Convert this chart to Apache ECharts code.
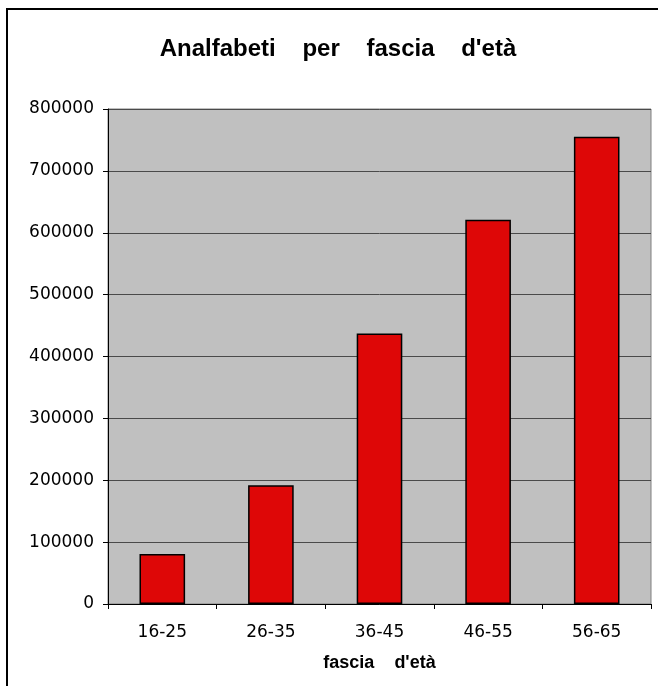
<!DOCTYPE html>
<html>
<head>
<meta charset="utf-8">
<script src="https://cdn.jsdelivr.net/npm/echarts@6/dist/echarts.min.js"></script>
<style>
  html, body { margin: 0; padding: 0; background: #ffffff; }
  #chart { width: 658px; height: 686px; }
</style>
</head>
<body>
<div id="chart"></div>
<script>
// Illiterate people by age band
const categories = ['16-25', '26-35', '36-45', '46-55', '56-65'];
const values = [81000, 192000, 437000, 621000, 755000];
const yTicks = [0, 100000, 200000, 300000, 400000, 500000, 600000, 700000, 800000];

const chart = echarts.init(document.getElementById('chart'));
chart.setOption({
  animation: false,
  backgroundColor: '#ffffff',
  title: {
    text: 'Analfabeti    per    fascia    d\'età',
    left: 333,
    top: 32,
    textAlign: 'center',
    textStyle: { fontFamily: 'Liberation Sans', fontWeight: 'bold', fontSize: 24, color: '#000000' }
  },
  graphic: [{
    type: 'rect',
    shape: { x: 7, y: 9, width: 720, height: 720 },
    style: { fill: 'none', stroke: '#000000', lineWidth: 2 },
    silent: true
  }],
  grid: {
    left: 108, top: 109, right: 7, bottom: 82,
    show: true, backgroundColor: '#c0c0c0', borderColor: '#808080', borderWidth: 1
  },
  xAxis: {
    type: 'category',
    data: categories,
    name: 'fascia    d\'età',
    nameLocation: 'middle',
    nameGap: 50,
    nameTextStyle: { fontFamily: 'Liberation Sans', fontWeight: 'bold', fontSize: 18, color: '#000000' },
    axisLine: { lineStyle: { color: '#000000', width: 1 } },
    axisTick: { show: true, inside: false, length: 5, lineStyle: { color: '#000000' } },
    axisLabel: { margin: 20, fontFamily: 'DejaVu Sans', fontSize: 17, color: '#000000' }
  },
  yAxis: {
    type: 'value',
    min: yTicks[0],
    max: yTicks[yTicks.length - 1],
    interval: yTicks[1] - yTicks[0],
    axisLine: { show: true, lineStyle: { color: '#000000', width: 1 } },
    axisTick: { show: true, inside: false, length: 5, lineStyle: { color: '#000000' } },
    axisLabel: {
      margin: 14, fontFamily: 'DejaVu Sans', fontSize: 17, color: '#000000',
      formatter: (v) => String(v)
    },
    splitLine: { show: true, lineStyle: { color: '#4a4a4a', width: 1 } }
  },
  series: [{
    type: 'bar',
    data: values,
    barWidth: '42%',
    itemStyle: { color: '#de0707', borderColor: '#000000', borderWidth: 1.5 }
  }]
});
</script>
</body>
</html>
